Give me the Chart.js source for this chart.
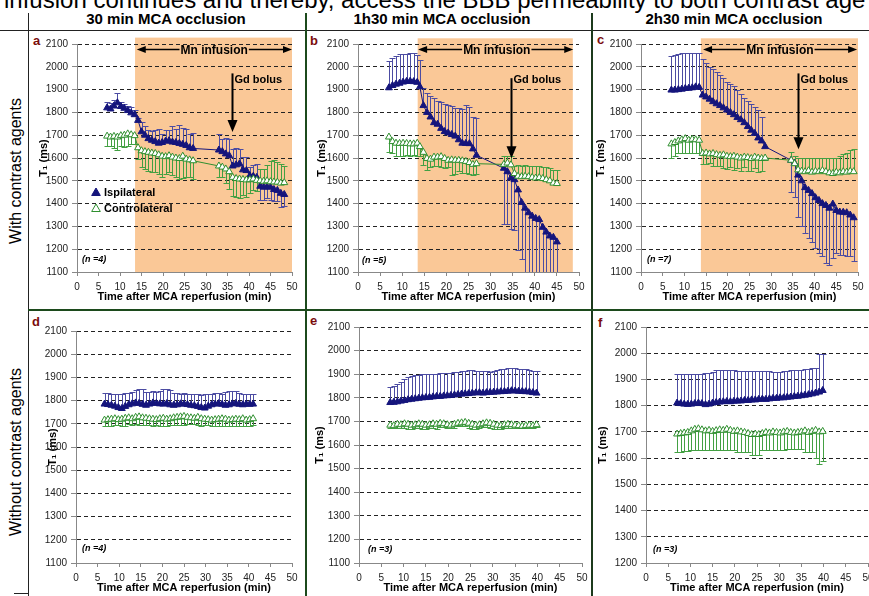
<!DOCTYPE html>
<html><head><meta charset="utf-8">
<script src="https://cdn.jsdelivr.net/npm/chart.js@4.4.1/dist/chart.umd.min.js"></script>
<style>
html,body{margin:0;padding:0;}
body{width:869px;height:596px;overflow:hidden;position:relative;background:#fff;font-family:"Liberation Sans",Arial,sans-serif;color:#000;}
.abs{position:absolute;white-space:nowrap;}
canvas{position:absolute;}
.rot{position:absolute;text-align:center;transform:rotate(-90deg);white-space:nowrap;}
</style></head>
<body>
<div class="abs" style="left:4px;top:-12px;font-size:24px;line-height:24px;">infusion continues and thereby, access the BBB permeability to both contrast age</div>
<div class="abs" style="left:66px;width:200px;top:11px;text-align:center;font-weight:bold;font-size:15px;line-height:15px;">30 min MCA occlusion</div>
<div class="abs" style="left:342px;width:200px;top:11px;text-align:center;font-weight:bold;font-size:15px;line-height:15px;">1h30 min MCA occlusion</div>
<div class="abs" style="left:634px;width:200px;top:11px;text-align:center;font-weight:bold;font-size:15px;line-height:15px;">2h30 min MCA occlusion</div>

<div class="abs" style="left:0;top:30px;width:869px;height:1px;background:#222;"></div>
<div class="abs" style="left:28px;top:13px;width:1px;height:583px;background:#222;"></div>
<div class="abs" style="left:305px;top:13px;width:2px;height:583px;background:#1c4a1c;"></div>
<div class="abs" style="left:591px;top:13px;width:2px;height:583px;background:#1c3a1c;"></div>
<div class="abs" style="left:28px;top:309px;width:841px;height:2px;background:#1c4a1c;"></div>
<div class="abs" style="left:14px;top:593px;width:15px;height:1px;background:#222;"></div>

<div class="rot" style="left:-84px;top:161px;width:200px;height:20px;line-height:20px;font-size:16px;">With contrast agents</div>
<div class="rot" style="left:-84px;top:442px;width:200px;height:20px;line-height:20px;font-size:16px;">Without contrast agents</div>

<div class="abs" style="left:33px;top:34px;font-weight:bold;font-size:13px;line-height:13px;color:#7a0c0c;">a</div>
<div class="abs" style="left:310px;top:34px;font-weight:bold;font-size:13px;line-height:13px;color:#7a0c0c;">b</div>
<div class="abs" style="left:597px;top:33px;font-weight:bold;font-size:13px;line-height:13px;color:#7a0c0c;">c</div>
<div class="abs" style="left:32px;top:315px;font-weight:bold;font-size:13px;line-height:13px;color:#7a0c0c;">d</div>
<div class="abs" style="left:310px;top:314px;font-weight:bold;font-size:13px;line-height:13px;color:#7a0c0c;">e</div>
<div class="abs" style="left:598px;top:316px;font-weight:bold;font-size:13px;line-height:13px;color:#7a0c0c;">f</div>

<canvas id="ca"></canvas>
<canvas id="cb"></canvas>
<canvas id="cc"></canvas>
<canvas id="cd"></canvas>
<canvas id="ce"></canvas>
<canvas id="cf"></canvas>

<script>
// ---------------- tick labels ----------------
const xTicks = [0,5,10,15,20,25,30,35,40,45,50];
const yTicks = [1100,1200,1300,1400,1500,1600,1700,1800,1900,2000,2100];
const yTicksF = [1200,1300,1400,1500,1600,1700,1800,1900,2000,2100];
const seriesNames = ['Ispilateral','Controlateral'];

// ---------------- panel a (30 min, with contrast) ----------------
const aTime = [7,7.8,8.6,9.4,10.2,11,11.8,12.6,13.4, 14.2,15,15.8,16.6,17.4,18.2,19,19.8,20.6,21.4,22.2,23,23.8,24.6,25.4,26.2,27, 33,33.8,34.6,35.4,36.2,37,37.8,38.6,39.4,40.2,41,41.8,42.6,43.4,44.2,45,45.8,46.6,47.4,48.2];
const aIpsi = [1820,1815,1828,1842,1826,1818,1808,1798,1790, 1765,1715,1700,1685,1678,1672,1665,1668,1674,1676,1670,1668,1664,1660,1655,1645,1642, 1635,1628,1618,1610,1565,1570,1575,1548,1545,1522,1520,1515,1476,1472,1474,1472,1462,1458,1445,1440];
const aIpsiErr = [25,25,25,45,20,20,20,25,22, 10,45,42,39,39,52,62,38,50,46,70,60,80,70,72,61,67, 70,55,70,75,75,75,65,55,60,40,50,60,-60,-55,-50,-55,-50,-45,-60,-50];
const aContra = [1696,1692,1695,1692,1698,1700,1706,1702,1698, 1645,1632,1628,1625,1622,1620,1614,1608,1606,1610,1604,1600,1598,1608,1595,1592,1588, 1565,1560,1552,1540,1515,1510,1508,1506,1504,1505,1508,1502,1500,1498,1500,1496,1495,1494,1490,1492];
const aContraErr = [-45,-40,-50,-55,-45,-50,-55,-40,-35, -50,-70,-75,-80,-85,-80,-85,-90,-75,-70,-80,-85,-90,-95,-80,-75,-80, -50,-45,-60,-75,-80,-80,-85,-70,-75,-60,-50,-45,50,55,70,90,95,90,85,75];

// ---------------- panel b (1h30, with contrast) ----------------
const bTime = [7,7.8,8.6,9.4,10.2,11,11.8,12.6,13.4, 14,14.8,15.6,16.4,17.2,18,18.8,19.6,20.4,21.2,22,22.8,23.6,24.4,25.2,26,26.8, 33,33.8,34.6,35.4,36.2,37,37.8,38.6,39.4,40.2,41,41.8,42.6,43.4,44.2,45];
const bIpsi = [1908,1918,1924,1928,1933,1936,1937,1935,1932, 1912,1830,1800,1780,1755,1748,1730,1716,1710,1703,1696,1680,1665,1664,1663,1640,1612, 1555,1540,1512,1505,1460,1405,1380,1360,1345,1335,1330,1296,1275,1258,1252,1232];
const bIpsiErr = [117,122,123,126,124,122,122,124,120, 120,78,85,92,110,102,115,120,123,125,122,138,150,168,160,140,165, -245,-230,-225,-220,-262,-250,-280,-290,-300,-300,-300,-300,-300,-300,-300,-300];
const bContra = [1692,1672,1665,1664,1665,1664,1662,1662,1665, 1650,1625,1598,1595,1604,1604,1606,1598,1590,1592,1590,1590,1588,1585,1580,1572,1575, 1572,1578,1570,1532,1520,1518,1520,1518,1515,1512,1514,1510,1505,1500,1490,1488];
const bContraErr = [-65,-50,-55,-55,-55,-50,-55,-50,-55, -40,-55,-50,-35,-40,-40,-45,-40,-30,-65,-60,-45,-55,-50,-50,-45,-45, 35,30,40,35,48,48,48,48,48,52,50,50,55,55,58,60];

// ---------------- panel c (2h30, with contrast) ----------------
const cTime = [7,7.8,8.6,9.4,10.2,11,11.8,12.6,13.4, 14.2,15,15.8,16.6,17.4,18.2,19,19.8,20.6,21.4,22.2,23,23.8,24.6,25.4,26.2,27,27.8,28.6, 34.6,35.4,36.2,37,37.8,38.6,39.4,40.2,41,41.8,42.6,43.4,44.2,45,45.8,46.6,47.4,48.2,49];
const cIpsi = [1898,1898,1900,1902,1905,1906,1908,1912,1910, 1876,1868,1858,1847,1838,1830,1820,1810,1800,1790,1778,1768,1755,1738,1722,1708,1688,1675,1650, 1590,1577,1525,1500,1470,1458,1444,1426,1414,1400,1392,1380,1398,1370,1363,1362,1360,1350,1338];
const cIpsiErr = [150,155,158,158,155,153,152,148,150, 157,147,142,143,140,135,131,125,125,125,120,112,110,112,116,117,124,103,0, -138,-147,-185,-200,-200,-208,-214,-221,-229,-230,-252,-250,-238,-185,-188,-187,-190,-180,-188];
const cContra = [1662,1668,1675,1680,1685,1678,1682,1680,1678, 1620,1622,1618,1620,1615,1612,1614,1608,1606,1608,1604,1600,1604,1602,1598,1604,1600,1598,1600, 1590,1575,1548,1542,1540,1544,1538,1542,1540,1545,1540,1535,1532,1538,1535,1540,1538,1542,1540];
const cContraErr = [-60,-60,-55,-60,-65,-55,-60,-60,-55, -45,-50,-40,-55,-50,-45,-60,-55,-45,-60,-50,-55,-45,-60,-55,-50,-60,-55,-10, 35,35,52,58,60,56,62,58,60,55,60,65,68,62,75,78,85,95,100];

// ---------------- panel d (30 min, without contrast) ----------------
const dTime = [6.6,7.4,8.2,9,9.8,10.6,11.4,12.2,13,13.8,14.6,15.4,16.2,17,17.8,18.6,19.4,20.2,21,21.8,22.6,23.4,24.2,25,25.8,26.6,27.4,28.2,29,29.8,30.6,31.4,32.2,33,33.8,34.6,35.4,36.2,37,37.8,38.6,39.4,40.2,41];
const dIpsi = [1785,1783,1780,1776,1770,1766,1775,1782,1786,1790, 1788,1784,1780,1785,1790,1788,1786,1785,1787,1782, 1780,1782,1786,1785,1783,1780,1778,1775,1770,1768, 1776,1782,1785,1787,1784,1780,1782,1786,1788,1784, 1782,1785,1784,1785];
const dIpsiErr = [47,49,50,54,58,64,57,50,49,55, 60,65,58,53,50,48,54,65,61,63, 52,50,44,47,45,50,50,55,56,60, 54,48,47,47,46,58,60,57,52,48, 48,45,46,45];
const dContra = [1716,1718,1720,1722,1718,1720,1724,1726,1722,1728, 1730,1726,1724,1722,1720,1718,1722,1724,1720,1722, 1726,1728,1730,1732,1728,1726,1724,1728,1722,1720, 1718,1716,1718,1720,1722,1720,1716,1718,1720,1718, 1722,1716,1718,1722];
const dContraErr = [-25,-28,-30,-26,-24,-30,-32,-28,-26,-30, -34,-30,-28,-26,-28,-24,-30,-32,-28,-26, -30,-32,-34,-36,-30,-28,-26,-32,-30,-26, -24,-26,-28,-30,-32,-28,-24,-26,-28,-26, -30,-24,-26,-28];

// ---------------- panels e, f (1h30 / 2h30, without contrast) ----------------
const efTime = [7,7.8,8.6,9.4,10.2,11,11.8,12.6,13.4,14.2, 15,15.8,16.6,17.4,18.2,19,19.8,20.6,21.4,22.2, 23,23.8,24.6,25.4,26.2,27,27.8,28.6,29.4,30.2, 31,31.8,32.6,33.4,34.2,35,35.8,36.6,37.4,38.2, 39,39.8];
const eIpsi = [1780,1781,1783,1786,1789,1792,1794,1796,1798,1800, 1801,1802,1804,1806,1806,1808,1809,1810,1812,1814, 1816,1817,1818,1820,1821,1822,1820,1822,1823,1824, 1825,1826,1827,1828,1830,1829,1828,1827,1826,1825, 1822,1820];
const eIpsiErr = [65,71,77,82,89,96,100,101,100,99, 99,98,98,96,97,95,96,96,96,96, 96,98,98,96,94,92,93,90,87,88, 91,94,96,97,96,96,96,95,94,93, 93,92];
const eContra = [1684,1682,1688,1686,1690,1688,1684,1686,1690,1688, 1684,1686,1690,1688,1692,1690,1686,1684,1688,1692, 1694,1696,1692,1688,1684,1686,1690,1694,1692,1688, 1684,1682,1686,1688,1686,1684,1682,1680,1682,1684, 1682,1686];
const eContraErr = [-14,-12,-18,-16,-20,-22,-16,-14,-18,-20, -16,-14,-18,-20,-16,-14,-12,-14,-16,-10, -12,-14,-18,-20,-16,-14,-12,-16,-22,-20, -18,-14,-12,-14,-16,-14,-12,-10,-12,-14, -12,-10];
const fIpsi = [1810,1808,1806,1805,1806,1808,1810,1808,1804,1806, 1810,1812,1814,1815,1816,1815,1817,1818,1818,1820, 1820,1822,1822,1824,1825,1824,1826,1828,1828,1830, 1830,1832,1833,1835,1836,1838,1840,1842,1845,1848, 1852,1858];
const fIpsiErr = [112,114,116,117,116,114,112,114,120,120, 118,124,122,121,120,121,119,116,116,114, 114,112,112,110,108,108,105,102,102,100, 102,102,102,101,100,98,98,98,97,97, 144,140];
const fContra = [1692,1694,1696,1698,1704,1710,1712,1708,1704,1706, 1702,1705,1708,1706,1710,1706,1702,1704,1700,1698, 1694,1690,1692,1690,1694,1698,1696,1700,1698,1696, 1700,1702,1698,1696,1698,1700,1704,1698,1702,1706, 1700,1702];
const fContraErr = [-67,-69,-70,-70,-72,-78,-80,-76,-72,-74, -70,-73,-76,-74,-78,-74,-70,-79,-75,-73, -69,-77,-79,-77,-64,-68,-66,-70,-68,-66, -70,-67,-63,-61,-63,-65,-79,-73,-77,-106, -122,-114];

// ---------------- styling ----------------
const FONT = "'Liberation Sans', Arial, sans-serif";
const IPSI = '#15157c', IPSI_BAR = '#4c4ca2', CONTRA = '#2f8f2f', CONTRA_BAR = '#43a043', SHADE = '#fac897';
Chart.defaults.font.family = FONT;
Chart.defaults.color = '#111';

const pts = (t, v) => t.map((x, i) => ({x: x, y: v[i]}));

function tri(ctx, cx, cy, r, fill, stroke) {
  ctx.beginPath();
  ctx.moveTo(cx, cy - r);
  ctx.lineTo(cx + r * 0.866, cy + r * 0.5);
  ctx.lineTo(cx - r * 0.866, cy + r * 0.5);
  ctx.closePath();
  if (fill) { ctx.fillStyle = fill; ctx.fill(); }
  if (stroke) { ctx.strokeStyle = stroke; ctx.lineWidth = 1; ctx.stroke(); }
}

const errBars = {
  id: 'errBars',
  beforeDatasetsDraw(chart) {
    const {ctx, chartArea: a, scales: {x, y}} = chart;
    ctx.save();
    ctx.beginPath(); ctx.rect(a.left, a.top, a.right - a.left, a.bottom - a.top); ctx.clip();
    chart.data.datasets.forEach(ds => {
      if (!ds.errs) return;
      ctx.strokeStyle = ds.errColor; ctx.lineWidth = 1;
      ds.data.forEach((p, i) => {
        const e = ds.errs[i];
        if (!e) return;
        const px = Math.round(x.getPixelForValue(p.x)) + 0.5;
        const py = y.getPixelForValue(p.y);
        const pe = Math.round(y.getPixelForValue(p.y + e)) + 0.5;
        ctx.beginPath();
        ctx.moveTo(px, py); ctx.lineTo(px, pe);
        ctx.moveTo(px - 3, pe); ctx.lineTo(px + 3, pe);
        ctx.stroke();
      });
    });
    ctx.restore();
  }
};

function annot(spec) {
  return {
    id: 'annot',
    beforeDraw(chart) {
      if (!spec.shade) return;
      const {ctx, chartArea: a, scales: {x, y}} = chart;
      const x1 = x.getPixelForValue(spec.shade.from), x2 = x.getPixelForValue(spec.shade.to);
      const yt = y.getPixelForValue(spec.shade.top);
      ctx.save(); ctx.fillStyle = SHADE; ctx.fillRect(x1, yt, x2 - x1, a.bottom - yt); ctx.restore();
    },
    afterDatasetsDraw(chart) {
      const {ctx, chartArea: a, scales: {x, y}} = chart;
      ctx.save();
      ctx.fillStyle = '#000'; ctx.strokeStyle = '#000';
      if (spec.mn) {
        const m = spec.mn;
        ctx.font = 'bold 12px ' + FONT;
        const tw = ctx.measureText('Mn infusion').width;
        const xm = x.getPixelForValue(m.textAt), ym = Math.round(y.getPixelForValue(m.y)) + 0.5;
        const xl = x.getPixelForValue(m.from), xr = x.getPixelForValue(m.to);
        ctx.lineWidth = 1.5;
        ctx.beginPath();
        ctx.moveTo(xl + 6, ym); ctx.lineTo(xm - tw / 2 - 1, ym);
        ctx.moveTo(xm + tw / 2 + 1, ym); ctx.lineTo(xr - 6, ym);
        ctx.stroke();
        ctx.beginPath(); ctx.moveTo(xl, ym); ctx.lineTo(xl + 9, ym - 3.5); ctx.lineTo(xl + 9, ym + 3.5); ctx.closePath(); ctx.fill();
        ctx.beginPath(); ctx.moveTo(xr, ym); ctx.lineTo(xr - 9, ym - 3.5); ctx.lineTo(xr - 9, ym + 3.5); ctx.closePath(); ctx.fill();
        ctx.textAlign = 'center'; ctx.textBaseline = 'middle';
        ctx.fillText('Mn infusion', xm, ym + 1);
      }
      if (spec.gd) {
        const g = spec.gd;
        const gx = Math.round(x.getPixelForValue(g.x)) + 0.5;
        const gt = y.getPixelForValue(g.top), gp = y.getPixelForValue(g.tip);
        ctx.lineWidth = 2;
        ctx.beginPath(); ctx.moveTo(gx, gt); ctx.lineTo(gx, gp - 10); ctx.stroke();
        ctx.beginPath(); ctx.moveTo(gx - 5, gp - 12); ctx.lineTo(gx + 5, gp - 12); ctx.lineTo(gx, gp); ctx.closePath(); ctx.fill();
        ctx.font = 'bold 11px ' + FONT;
        ctx.textAlign = 'left'; ctx.textBaseline = 'middle';
        ctx.fillText('Gd bolus', gx + 2, y.getPixelForValue(g.textY));
      }
      if (spec.n) {
        ctx.font = 'italic bold 9px ' + FONT;
        ctx.textAlign = 'left'; ctx.textBaseline = 'middle';
        ctx.fillText(spec.n, a.left + spec.nDx, a.bottom - spec.nDy);
      }
      if (spec.legend) {
        ctx.font = 'bold 11px ' + FONT;
        ctx.textAlign = 'left'; ctx.textBaseline = 'middle';
        tri(ctx, a.left + 19, a.top + 149, 5, IPSI, IPSI);
        ctx.fillStyle = '#000'; ctx.fillText(seriesNames[0], a.left + 27, a.top + 149);
        tri(ctx, a.left + 19, a.top + 165, 5, '#fff', CONTRA);
        ctx.fillStyle = '#000'; ctx.fillText(seriesNames[1], a.left + 27, a.top + 165);
      }
      ctx.restore();
    }
  };
}

function makePanel(id, box, t, ipsi, ipsiErr, contra, contraErr, ticksY, spec) {
  const cv = document.getElementById(id);
  cv.width = box.w; cv.height = box.h;
  cv.style.left = box.left + 'px'; cv.style.top = box.top + 'px';
  cv.style.width = box.w + 'px'; cv.style.height = box.h + 'px';
  new Chart(cv, {
    type: 'scatter',
    data: {
      datasets: [
        {label: seriesNames[1], data: pts(t, contra), errs: contraErr, errColor: CONTRA_BAR,
         showLine: true, borderColor: CONTRA, borderWidth: 1, pointStyle: 'triangle', pointRadius: 4,
         pointBackgroundColor: '#fff', pointBorderColor: CONTRA, pointBorderWidth: 1},
        {label: seriesNames[0], data: pts(t, ipsi), errs: ipsiErr, errColor: IPSI_BAR,
         showLine: true, borderColor: IPSI, borderWidth: 1, pointStyle: 'triangle', pointRadius: 4,
         pointBackgroundColor: IPSI, pointBorderColor: IPSI, pointBorderWidth: 1}
      ]
    },
    options: {
      responsive: false, animation: false, devicePixelRatio: 1, events: [],
      layout: {padding: {left: 0, right: box.rp, top: box.tp, bottom: 0}},
      plugins: {legend: {display: false}, tooltip: {enabled: false}},
      scales: {
        x: {
          type: 'linear', min: xTicks[0], max: xTicks[xTicks.length - 1],
          afterBuildTicks: s => { s.ticks = xTicks.map(v => ({value: v})); },
          afterFit: s => { s.height = 36; s.paddingLeft = 0; s.paddingRight = 0; },
          grid: {drawOnChartArea: false, drawTicks: true, tickLength: 4, tickColor: '#888', color: '#888'},
          border: {display: true, color: '#888', width: 1},
          ticks: {autoSkip: false, maxRotation: 0, padding: 5, font: {size: 10}, color: '#222', callback: v => String(v)},
          title: {display: true, text: 'Time after MCA reperfusion (min)', font: {size: 11, weight: 'bold'}, color: '#000', padding: {top: 0, bottom: 4}}
        },
        y: {
          min: ticksY[0], max: ticksY[ticksY.length - 1],
          afterBuildTicks: s => { s.ticks = ticksY.map(v => ({value: v})); },
          afterFit: s => { s.width = 50; s.paddingTop = 0; s.paddingBottom = 0; },
          grid: {color: c => (c.tick && c.tick.value === ticksY[0]) ? 'rgba(0,0,0,0)' : '#222',
                 drawTicks: true, tickLength: 5, tickColor: '#888', tickBorderDash: []},
          border: {display: true, color: '#888', width: 1, dash: [4, 3]},
          ticks: {padding: 4, font: {size: 10}, color: '#222', callback: v => String(v)},
          title: {display: true, text: 'T\u2081 (ms)', font: {size: 11, weight: 'bold'}, color: '#000', padding: {top: box.yt, bottom: 0}}
        }
      }
    },
    plugins: [errBars, annot(spec)]
  });
}

makePanel('ca', {left: 27, top: 32, w: 275, h: 276, rp: 10, tp: 12, yt: 10}, aTime, aIpsi, aIpsiErr, aContra, aContraErr, yTicks,
  {shade: {from: 13.5, to: 50, top: 2128}, mn: {from: 13.9, to: 50, y: 2076, textAt: 31.9},
   gd: {x: 36.1, top: 1971, tip: 1714, textY: 1942}, n: '(n =4)', nDx: 5, nDy: 12, legend: true});
makePanel('cb', {left: 308, top: 32, w: 281, h: 276, rp: 10, tp: 12, yt: 7}, bTime, bIpsi, bIpsiErr, bContra, bContraErr, yTicks,
  {shade: {from: 13.5, to: 48.6, top: 2125}, mn: {from: 13.6, to: 48.7, y: 2076, textAt: 31.4},
   gd: {x: 34.6, top: 1950, tip: 1599, textY: 1942}, n: '(n =5)', nDx: 4, nDy: 11});
makePanel('cc', {left: 591, top: 32, w: 279, h: 276, rp: 12, tp: 12, yt: 3}, cTime, cIpsi, cIpsiErr, cContra, cContraErr, yTicks,
  {shade: {from: 13.8, to: 50, top: 2125}, mn: {from: 14.3, to: 49.8, y: 2076, textAt: 32},
   gd: {x: 36.1, top: 1971, tip: 1638, textY: 1942}, n: '(n =7)', nDx: 6, nDy: 12});
makePanel('cd', {left: 26, top: 319, w: 276, h: 280, rp: 10, tp: 12, yt: 20}, dTime, dIpsi, dIpsiErr, dContra, dContraErr, yTicks,
  {n: '(n =4)', nDx: 6, nDy: 14});
makePanel('ce', {left: 309, top: 315, w: 283, h: 284, rp: 10, tp: 12, yt: 4}, efTime, eIpsi, eIpsiErr, eContra, eContraErr, yTicks,
  {n: '(n =3)', nDx: 9, nDy: 13});
makePanel('cf', {left: 596, top: 315, w: 282, h: 284, rp: 10, tp: 12, yt: 0}, efTime, fIpsi, fIpsiErr, fContra, fContraErr, yTicksF,
  {n: '(n =3)', nDx: 7, nDy: 13});
</script>
</body></html>
